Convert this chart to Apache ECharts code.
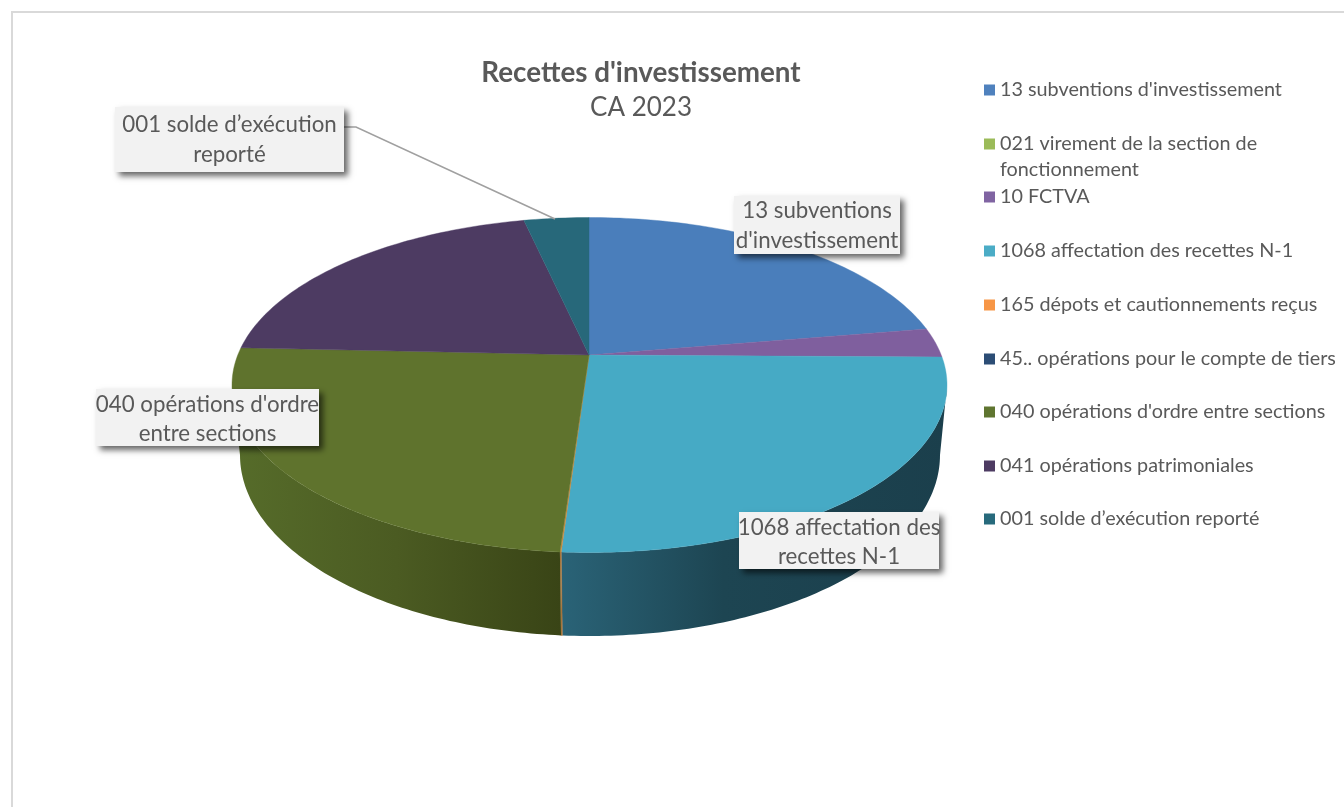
<!DOCTYPE html>
<html><head><meta charset="utf-8">
<style>html,body{margin:0;padding:0;background:#fff}#c{width:1344px;height:807px}</style>
<script src="https://cdn.jsdelivr.net/npm/echarts@6/dist/echarts.min.js"></script>
</head><body><div id="c"></div>
<script>
const categories = ["13 subventions d'investissement","021 virement de la section de fonctionnement","10 FCTVA","1068 affectation des recettes N-1","165 dépots et cautionnements reçus","45.. opérations pour le compte de tiers","040 opérations d'ordre entre sections","041 opérations patrimoniales","001 solde d’exécution reporté"];
const values = [22.4,0,2.8,25.85,0.05,0,24.6,20.75,3.55];
const titleLines = ["Recettes d'investissement","CA 2023"];

const font = 'Lato, "Open Sans", sans-serif';
const textCol = '#595959';
const legendCols = ['#4f81bd','#9bbb59','#8064a2','#4bacc6','#f79646','#2c4d75','#5f7530','#4d3b62','#276a7c'];
const topCols = ['#4a7ebb','#9bbb59','#7f5f9e','#46aac5','#c98a3c','#2c4d75','#5f732d','#4d3b62','#27687a'];
const wallStops = {
  3:[[0,'#2a6377'],[0.42,'#1d4552'],[1,'#1b3f4c']],
  4:[[0,'#a8743a'],[1,'#a8743a']],
  6:[[0,'#566c2a'],[0.5,'#4b5b22'],[1,'#394416']]
};
const legendY = [90,144,197,251,305,359,412,466,519];
const legendLine = {1:'021 virement de la section de'};

// projected geometry of the disc
const hub = {x:589,y:355};
const rimTop = {cx:589.5,cy:385,rx:357.5,ry:167.5};
const rimBot = {cx:590,cy:455,rx:350,ry:181};
const total = values.reduce((a,b)=>a+b,0);
const rad = d=>d*Math.PI/180;

function rimParam(theta){
  const dx=Math.sin(rad(theta))*rimTop.rx, dy=-Math.cos(rad(theta))*rimTop.ry;
  const ox=(hub.x-rimTop.cx)/rimTop.rx, oy=(hub.y-rimTop.cy)/rimTop.ry;
  const ax=dx/rimTop.rx, ay=dy/rimTop.ry;
  const A=ax*ax+ay*ay,B=2*(ox*ax+oy*ay),C=ox*ox+oy*oy-1;
  const s=(-B+Math.sqrt(B*B-4*A*C))/(2*A);
  const u=ox+s*ax,v=oy+s*ay;
  let t=Math.atan2(u,-v)*180/Math.PI;
  if(t<0 && theta>90) t+=360;
  return t;
}
const pt=(e,t)=>[e.cx+e.rx*Math.sin(rad(t)),e.cy-e.ry*Math.cos(rad(t))];
function arc(e,a,b){const n=Math.max(2,Math.ceil(Math.abs(b-a)));const r=[];for(let i=0;i<=n;i++)r.push(pt(e,a+(b-a)*i/n));return r;}

function renderSlice(idx){
  return function(){
    const before=values.slice(0,idx).reduce((a,b)=>a+b,0);
    const th0=before/total*360, th1=(before+values[idx])/total*360;
    const children=[];
    if(values[idx]<=0) return {type:'group',children};
    const t0=rimParam(th0), t1=rimParam(th1);
    const w0=Math.max(t0,90), w1=Math.min(t1,270);
    if(w1>w0){
      const fill=new echarts.graphic.LinearGradient(0,0,1,0,(wallStops[idx]||[[0,topCols[idx]],[1,topCols[idx]]]).map(s=>({offset:s[0],color:s[1]})));
      const pts=arc(rimTop,w0,w1).concat(arc(rimBot,w1,w0));
      children.push({type:'polygon',shape:{points:pts},style:{fill,stroke:idx===4?'#a8743a':null,lineWidth:0.5},silent:true});
    }
    const pts=[[hub.x,hub.y]].concat(arc(rimTop,t0,t1));
    children.push({type:'polygon',shape:{points:pts},style:{fill:topCols[idx],stroke:topCols[idx],lineWidth:0.4},silent:true});
    return {type:'group',children};
  };
}

const series=categories.map((name,i)=>({
  type:'custom',name,coordinateSystem:'none',data:[[values[i]]],
  itemStyle:{color:legendCols[i]},renderItem:renderSlice(i),silent:true,animation:false,z:2
}));

const legends=categories.map((name,i)=>({
  show:true,data:[name],left:984,top:legendY[i]-12,orient:'horizontal',
  itemWidth:11,itemHeight:11,padding:0,icon:'rect',selectedMode:false,
  formatter:()=>legendLine[i]||name,
  textStyle:{fontFamily:font,fontSize:19.8,color:textCol,lineHeight:24,height:24}
}));

const boxes=[
  {x:115,y:107,w:229,h:65,lines:['001 solde d’exécution','reporté'],ty:[125,155]},
  {x:734,y:196,w:166,h:58,lines:['13 subventions',"d'investissement"],ty:[211,241]},
  {x:739,y:512,w:200,h:57,lines:['1068 affectation des','recettes N-1'],ty:[528,557]},
  {x:96,y:389,w:223,h:57,lines:["040 opérations d'ordre",'entre sections'],ty:[405,434]}
];
const graphic=[
  {type:'polyline',shape:{points:[[12,807],[12,12],[1344,12]]},style:{stroke:'#d9d9d9',lineWidth:2,fill:null},z:0},
  {type:'text',x:641,y:73,style:{text:titleLines[0],font:'bold 27.8px '+font,fill:textCol,align:'center',verticalAlign:'middle'},z:10},
  {type:'text',x:641,y:108,style:{text:titleLines[1],font:'26px '+font,fill:textCol,align:'center',verticalAlign:'middle'},z:10},
  {type:'text',x:1000,y:170,style:{text:'fonctionnement',font:'19.8px '+font,fill:textCol,align:'left',verticalAlign:'middle'},z:10},
  {type:'polyline',shape:{points:[[344,127],[356,127],[555,219]]},style:{stroke:'#a0a0a0',lineWidth:1.6,fill:null},z:9}
];
boxes.forEach(b=>{
  graphic.push({type:'rect',shape:{x:b.x,y:b.y,width:b.w,height:b.h},style:{fill:'#f2f2f2',shadowBlur:6,shadowColor:'rgba(0,0,0,0.6)',shadowOffsetX:4,shadowOffsetY:4},z:10});
  b.lines.forEach((l,i)=>graphic.push({type:'text',x:b.x+b.w/2,y:b.ty[i],style:{text:l,font:'22.3px '+font,fill:textCol,align:'center',verticalAlign:'middle'},z:11}));
});

const chart=echarts.init(document.getElementById('c'),null,{renderer:'canvas'});
chart.setOption({animation:false,backgroundColor:'#fff',tooltip:{show:false},legend:legends,series,graphic});
</script></body></html>
